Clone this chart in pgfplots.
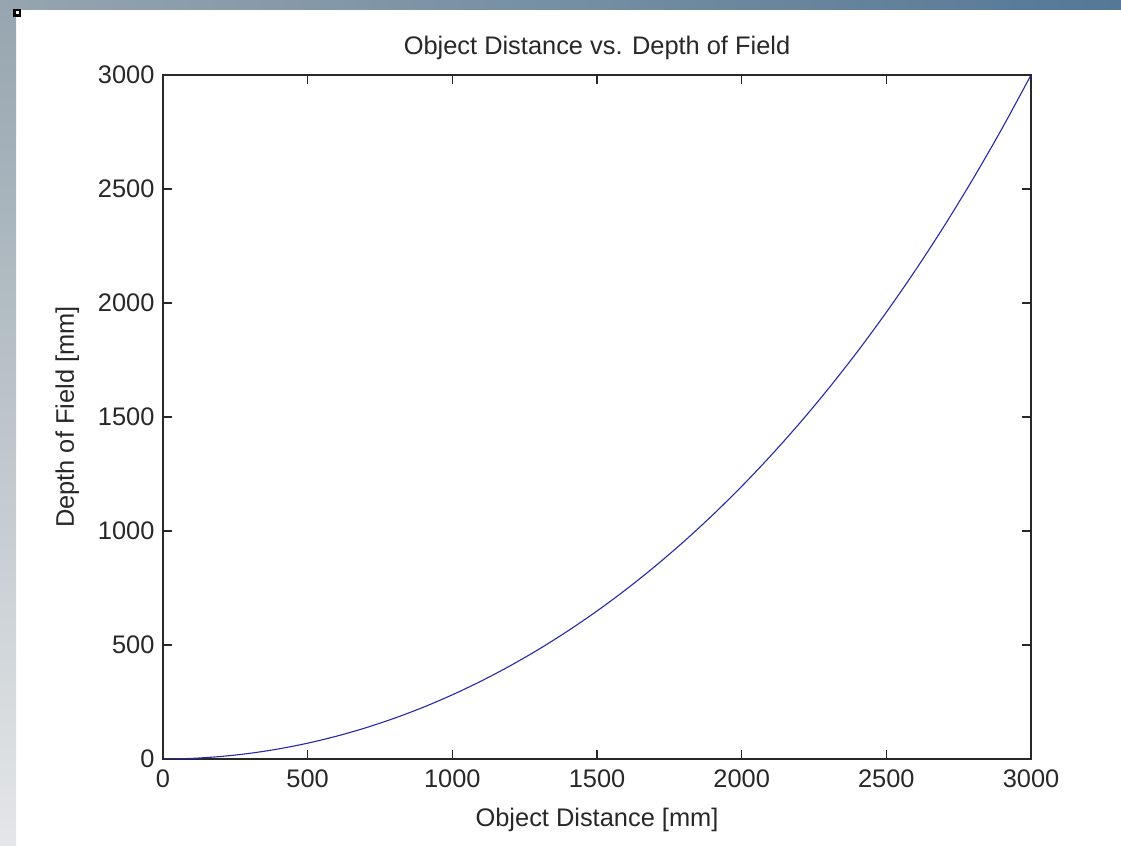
\documentclass[border=0pt]{standalone}
\usepackage{pgfplots}
\pgfplotsset{compat=1.18}
\usepackage{fontspec}
\setmainfont{Liberation Sans}
\definecolor{curveblue}{RGB}{40,40,170}
\definecolor{axgray}{RGB}{40,40,40}
\definecolor{stripA}{RGB}{150,165,175}
\definecolor{stripB}{RGB}{85,120,150}
\definecolor{stripC}{RGB}{228,230,232}

\begin{document}
\begin{tikzpicture}[x=1bp,y=1bp]
% screenshot background
\fill[white] (0,0) rectangle (1121,846);
\shade[top color=stripA, bottom color=stripC] (0,0) rectangle (16,846);
\shade[left color=stripA, right color=stripB] (0,836) rectangle (1121,846);
\fill[black] (13,829) rectangle (21,837);
\fill[white] (15.5,831.5) rectangle (18.5,834.5);

\begin{axis}[
    at={(163bp,87bp)}, anchor=south west,
    scale only axis,
    width=868bp, height=684bp,
    xmin=0, xmax=3000, ymin=0, ymax=3000,
    xtick={0,500,...,3000}, ytick={0,500,...,3000},
    tick align=inside,
    major tick length=9bp,
    axis line style={axgray, line width=1.2bp},
    tick style={axgray, line width=1.2bp},
    font=\fontsize{25.5}{30}\selectfont,
    ticklabel style={font=\fontsize{25.5}{30}\selectfont, text=axgray},
    /pgf/number format/assume math mode=true,
    /pgf/number format/1000 sep={},
    xticklabel style={yshift=-7bp},
    yticklabel style={xshift=-5bp},
    title={Object Distance vs. Depth of Field},
    title style={yshift=6bp, text=axgray},
    xlabel={Object Distance [mm]},
    ylabel={Depth of Field [mm]},
    label style={text=axgray},
    xlabel style={yshift=-14bp},
    ylabel style={yshift=12bp},
]
\addplot[curveblue, line width=1.1bp, smooth] coordinates {
(0,0) (100,2.76) (200,11.05) (300,24.89) (400,44.32) (500,69.36)
(600,100.09) (700,136.58) (800,178.91) (900,227.17) (1000,281.49)
(1100,342.00) (1200,408.85) (1300,482.19) (1400,562.22) (1500,649.13)
(1600,743.15) (1700,844.54) (1800,953.55) (1900,1070.49) (2000,1195.68)
(2100,1329.49) (2200,1472.30) (2300,1624.53) (2400,1786.67) (2500,1959.22)
(2600,2142.74) (2700,2337.85) (2800,2545.24) (2900,2765.60) (3000,3000)
};
\end{axis}
\end{tikzpicture}
\end{document}
